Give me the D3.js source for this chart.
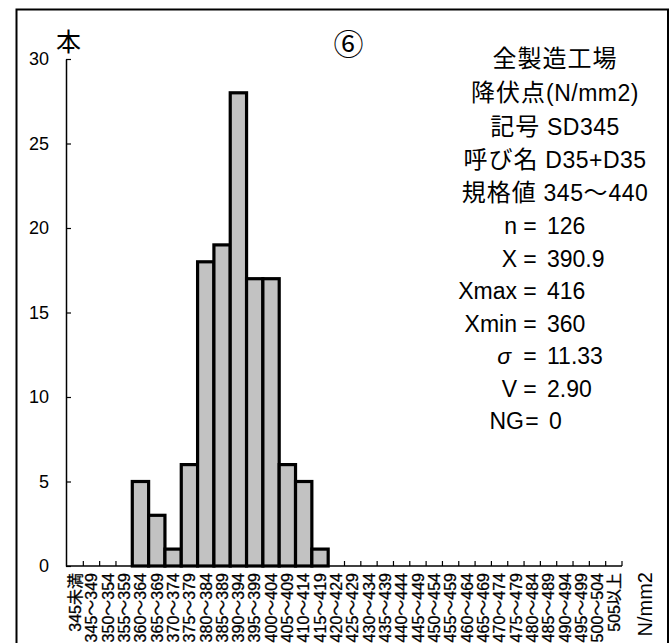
<!DOCTYPE html>
<html><head><meta charset="utf-8">
<script src="https://cdn.jsdelivr.net/npm/d3@7"></script>
<style>body{margin:0;background:#fff}svg{display:block}</style>
</head><body>
<svg id="c" width="670" height="643"></svg>
<script>
const categories = ["345未満","345～349","350～354","355～359","360～364","365～369","370～374","375～379","380～384","385～389","390～394","395～399","400～404","405～409","410～414","415～419","420～424","425～429","430～434","435～439","440～444","445～449","450～454","455～459","460～464","465～469","470～474","475～479","480～484","485～489","490～494","495～499","500～504","505以上"];
const counts = [0,0,0,0,5,3,1,6,18,19,28,17,17,6,5,1,0,0,0,0,0,0,0,0,0,0,0,0,0,0,0,0,0,0];
const yTicks = [0,5,10,15,20,25,30];
const yUnit = "本";
const xUnit = "N/mm2";
const panelMark = "⑥";
const titleLines = ["全製造工場","降伏点(N/mm2)","記号 SD345","呼び名 D35+D35","規格値 345～440"];
const statLabels = ["n","X","Xmax","Xmin","σ","V","NG"];
const statValues = ["126","390.9","416","360","11.33","2.90","0"];

const FONT = "'Liberation Sans', Arial, 'Noto Sans CJK JP', sans-serif";
const CJK = "'Noto Sans CJK JP', sans-serif";
const svg = d3.select("#c");

// frame
svg.append("rect").attr("x",16.5).attr("y",9.5).attr("width",651.5).attr("height",700)
  .attr("fill","none").attr("stroke","#000").attr("stroke-width",2);

const x = d3.scaleBand().domain(categories).range([67, 622]).padding(0);
const y = d3.scaleLinear().domain([0,30]).range([566, 59]);

// bars
svg.append("g").selectAll("rect").data(categories.map((c,i)=>({c, v:counts[i]})).filter(d=>d.v>0))
  .join("rect")
  .attr("x", d=>x(d.c)).attr("width", x.bandwidth())
  .attr("y", d=>y(d.v)).attr("height", d=>y(0)-y(d.v))
  .attr("fill","#c2c2c2").attr("stroke","#000").attr("stroke-width",3.2);

// y axis
const ya = svg.append("g").attr("transform","translate(66,0)")
  .call(d3.axisLeft(y).tickValues(yTicks).tickSize(-5).tickSizeOuter(0).tickPadding(17));
ya.select(".domain").attr("stroke","#000").attr("stroke-width",1.5);
ya.selectAll(".tick line").attr("stroke","#000").attr("stroke-width",1.2);
ya.selectAll(".tick text").attr("font-family",FONT).attr("font-size",18).attr("fill","#000");

// x axis baseline
svg.append("line").attr("x1",66).attr("x2",x.range()[1]).attr("y1",y(0)).attr("y2",y(0))
  .attr("stroke","#000").attr("stroke-width",1.5);
// boundary ticks (pointing up)
const bounds = categories.map(c=>x(c)).concat([x.range()[1]]);
svg.append("g").selectAll("line").data(bounds.slice(1)).join("line")
  .attr("x1",d=>d).attr("x2",d=>d).attr("y1",y(0)).attr("y2",y(0)-5)
  .attr("stroke","#000").attr("stroke-width",1.2);

// x labels rotated
svg.append("g").selectAll("text").data(categories).join("text")
  .attr("transform", c=>`translate(${x(c)+x.bandwidth()/2},573) rotate(-90)`)
  .attr("text-anchor","end").attr("dy","0.36em")
  .attr("font-family",FONT).attr("font-size",16).attr("fill","#000")
  .attr("stroke","#000").attr("stroke-width",0.3)
  .text(c=>c);

// x unit
svg.append("text").attr("transform","translate(645,572) rotate(-90)")
  .attr("text-anchor","end").attr("dy","0.36em")
  .attr("font-family",FONT).attr("font-size",20).text(xUnit);

// y unit
svg.append("text").attr("x",68.5).attr("y",51).attr("text-anchor","middle")
  .attr("font-family",CJK).attr("font-size",25).text(yUnit);

// panel mark
svg.append("text").attr("x",348.5).attr("y",55).attr("text-anchor","middle")
  .attr("font-family",CJK).attr("font-size",30).text(panelMark);

// title lines with mixed runs
const isCJK = ch => /[\u3000-\u9fff\uff00-\uffef]/.test(ch);
const titleBase = [67,101,135,168,201];
titleLines.forEach((line,i)=>{
  const t = svg.append("text").attr("x",555).attr("y",titleBase[i]).attr("text-anchor","middle")
    .attr("font-family",FONT).attr("fill","#000");
  const runs = [];
  for (const ch of line) {
    const k = isCJK(ch);
    if (runs.length && runs[runs.length-1].k===k) runs[runs.length-1].s+=ch; else runs.push({k,s:ch});
  }
  runs.forEach(r=>{
    t.append("tspan").attr("font-size", r.k?24:23)
      .attr("letter-spacing", r.k? "1px" : "0.5px")
      .attr("font-family", r.k ? CJK : FONT)
      .text(r.s);
  });
});

// stats lines
const statBase = [234,266.5,299,331.5,364,396.5,429];
statLabels.forEach((lab,i)=>{
  const isNG = lab==="NG";
  svg.append("text").attr("x", lab==="σ"?511:(isNG?524:517)).attr("y",statBase[i]).attr("text-anchor","end")
    .attr("font-family", FONT).attr("font-size",23)
    .attr("font-style", lab==="σ"?"italic":"normal").text(lab);
  svg.append("text").attr("x", isNG?532:530).attr("y",statBase[i]).attr("text-anchor","middle")
    .attr("font-family",FONT).attr("font-size",23).text("=");
  svg.append("text").attr("x", isNG?549:547).attr("y",statBase[i]).attr("text-anchor","start")
    .attr("font-family",FONT).attr("font-size",23).text(statValues[i]);
});
</script>
</body></html>
